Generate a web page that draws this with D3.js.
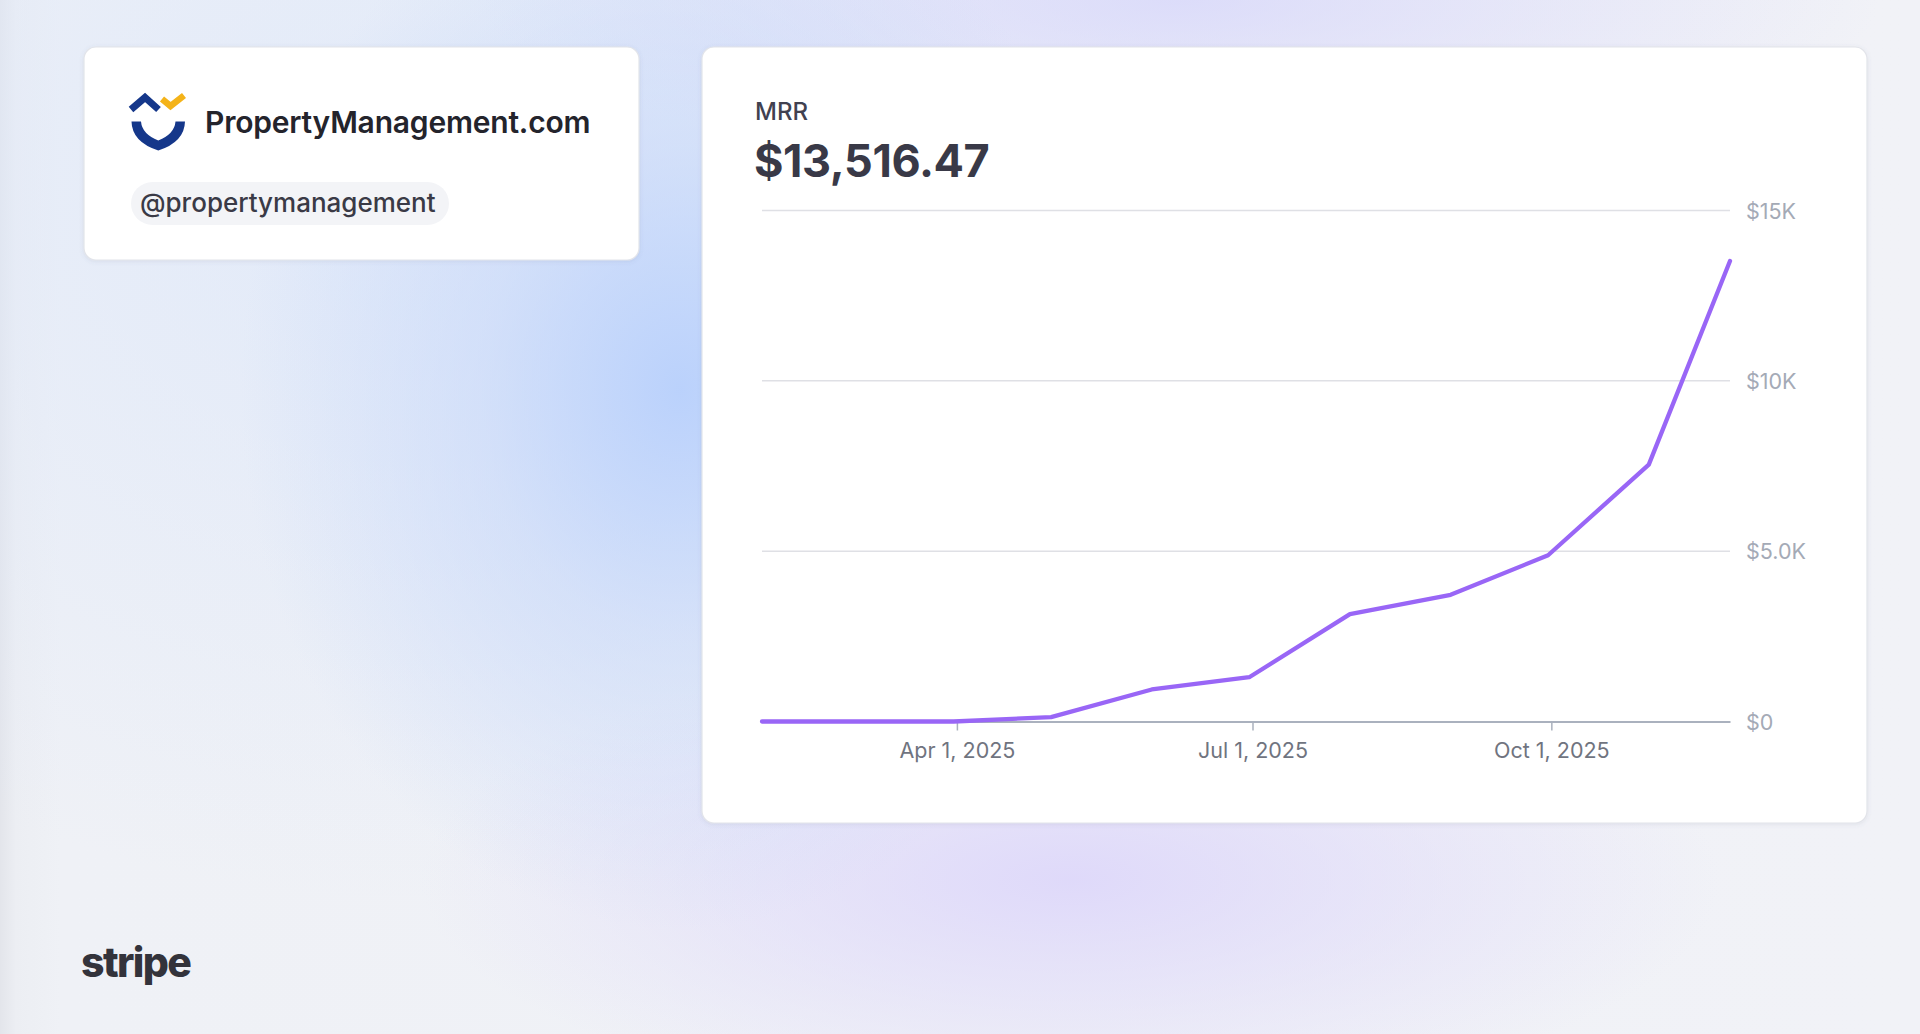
<!DOCTYPE html>
<html>
<head>
<meta charset="utf-8">
<script src="https://cdn.jsdelivr.net/npm/d3@7"></script>
<style>
  html, body { margin:0; padding:0; }
  body {
    width:1920px; height:1034px; overflow:hidden;
    font-family: Inter, "Noto Sans", sans-serif;
    background:
      radial-gradient(ellipse 440px 540px at 680px 390px, rgba(184,208,252,0.95) 0%, rgba(196,214,250,0.55) 45%, rgba(214,226,248,0) 100%),
      radial-gradient(ellipse 700px 170px at 1180px 0px, rgba(218,218,250,0.9) 0%, rgba(226,226,248,0) 100%),
      radial-gradient(ellipse 650px 230px at 1070px 880px, rgba(222,216,250,0.95) 0%, rgba(228,224,250,0) 100%),
      radial-gradient(ellipse 900px 700px at 420px 200px, rgba(222,232,250,0.8) 0%, rgba(230,236,248,0) 100%),
      linear-gradient(90deg, #e3e5eb 0px, #eceef3 16px, #eff1f6 60px, #f1f2f7 100%);
  }
  svg { position:absolute; left:0; top:0; }
</style>
</head>
<body>
<svg id="chart" width="1920" height="1034"></svg>
<script>
// ---------- data ----------
const dates = ["2025-01-31","2025-02-28","2025-03-31","2025-04-30","2025-05-31","2025-06-30","2025-07-31","2025-08-31","2025-09-30","2025-10-31","2025-11-25"];
const mrrValues = [0, 0, 0, 130, 940, 1300, 3150, 3720, 4880, 7540, 13516.47];
const yTicks = [0, 5000, 10000, 15000];
const yTickLabels = ["$0", "$5.0K", "$10K", "$15K"];
const xTicks = ["2025-04-01", "2025-07-01", "2025-10-01"];
const companyName = "PropertyManagement.com";
const handle = "@propertymanagement";
const metricName = "MRR";
const metricValue = "$13,516.47";

const parse = d3.utcParse("%Y-%m-%d");
const data = dates.map((d, i) => ({date: parse(d), value: mrrValues[i]}));

const svg = d3.select("#chart");

// ---------- shadows ----------
const defs = svg.append("defs");
const f = defs.append("filter").attr("id","shadow").attr("x","-10%").attr("y","-10%").attr("width","120%").attr("height","130%");
f.append("feDropShadow").attr("dx",0).attr("dy",1).attr("stdDeviation",2).attr("flood-color","#5a6080").attr("flood-opacity",0.12);

// ---------- left card ----------
svg.append("rect").attr("x",84).attr("y",47).attr("width",555).attr("height",213).attr("rx",12)
  .attr("fill","#ffffff").attr("stroke","#e2e4ea").attr("stroke-width",1.2).attr("filter","url(#shadow)");

// logo
const logo = svg.append("g");
logo.append("polyline").attr("points","131,109.5 145,97.5 158.5,109.5")
  .attr("fill","none").attr("stroke","#15378a").attr("stroke-width",7).attr("stroke-linejoin","miter");
logo.append("polyline").attr("points","162,99 170.5,106 184,95.5")
  .attr("fill","none").attr("stroke","#f4b319").attr("stroke-width",6.5).attr("stroke-linejoin","miter");
logo.append("path")
  .attr("d","M131.5,121.5 L141,121.5 Q142,134 158.3,140.5 Q174.5,134 175.5,121.5 L185,121.5 Q184.5,142 158.3,150.5 Q132,142 131.5,121.5 Z")
  .attr("fill","#15378a");

svg.append("text").attr("x",205).attr("y",133).text(companyName)
  .attr("font-size",30).attr("font-weight",600).attr("fill","#24242c").attr("letter-spacing",-0.2);

// handle pill
svg.append("rect").attr("x",131).attr("y",182).attr("width",318).attr("height",43).attr("rx",21.5)
  .attr("fill","#f3f4f7");
svg.append("text").attr("x",140).attr("y",212).text(handle)
  .attr("font-size",26).attr("font-weight",500).attr("fill","#3a3a46");

// ---------- chart card ----------
svg.append("rect").attr("x",702).attr("y",47).attr("width",1165).attr("height",776).attr("rx",12)
  .attr("fill","#ffffff").attr("stroke","#e2e4ea").attr("stroke-width",1.2).attr("filter","url(#shadow)");

svg.append("text").attr("x",755).attr("y",120).text(metricName)
  .attr("font-size",24).attr("font-weight",500).attr("fill","#414150");
svg.append("text").attr("x",754).attr("y",177).text(metricValue)
  .attr("font-size",45).attr("font-weight",700).attr("fill","#393947").attr("letter-spacing",-0.4);

// scales
const x = d3.scaleUtc().domain(d3.extent(data, d => d.date)).range([762, 1730]);
const y = d3.scaleLinear().domain([0, 15000]).range([721.5, 210.5]);

// gridlines
svg.append("g").selectAll("line").data(yTicks.slice(1)).join("line")
  .attr("x1", 762).attr("x2", 1730)
  .attr("y1", d => y(d)).attr("y2", d => y(d))
  .attr("stroke", "#dfe0e5").attr("stroke-width", 1.5);

// y axis labels (right)
const yAxis = d3.axisRight(y).tickValues(yTicks)
  .tickFormat(d => yTickLabels[yTicks.indexOf(d)]).tickSize(0).tickPadding(0);
const gy = svg.append("g").attr("transform", "translate(1746,0)").call(yAxis);
gy.select(".domain").remove();
gy.selectAll("text").attr("font-family","Inter, sans-serif").attr("font-size",21.5)
  .attr("fill","#a4aab6").attr("x",0).attr("dy","0.36em");

// x axis
const xAxis = d3.axisBottom(x).tickValues(xTicks.map(parse))
  .tickFormat(d3.utcFormat("%b %-d, %Y")).tickSize(9).tickSizeOuter(0).tickPadding(12);
const gx = svg.append("g").attr("transform", `translate(0,${y(0)})`).call(xAxis);
gx.select(".domain").attr("stroke","#aab1be").attr("stroke-width",2);
gx.selectAll(".tick line").attr("stroke","#aab1be").attr("stroke-width",1.5);
gx.selectAll("text").attr("font-family","Inter, sans-serif").attr("font-size",21.5)
  .attr("fill","#70747f");

// line
const line = d3.line().x(d => x(d.date)).y(d => y(d.value));
svg.append("path").datum(data).attr("d", line)
  .attr("fill","none").attr("stroke","#9966f6").attr("stroke-width",4.3)
  .attr("stroke-linejoin","round").attr("stroke-linecap","round");

// ---------- stripe wordmark ----------
svg.append("text").attr("x",81).attr("y",977).text("stripe")
  .attr("font-size",41).attr("font-weight",800).attr("fill","#33333b").attr("letter-spacing",-1.6);
</script>
</body>
</html>
